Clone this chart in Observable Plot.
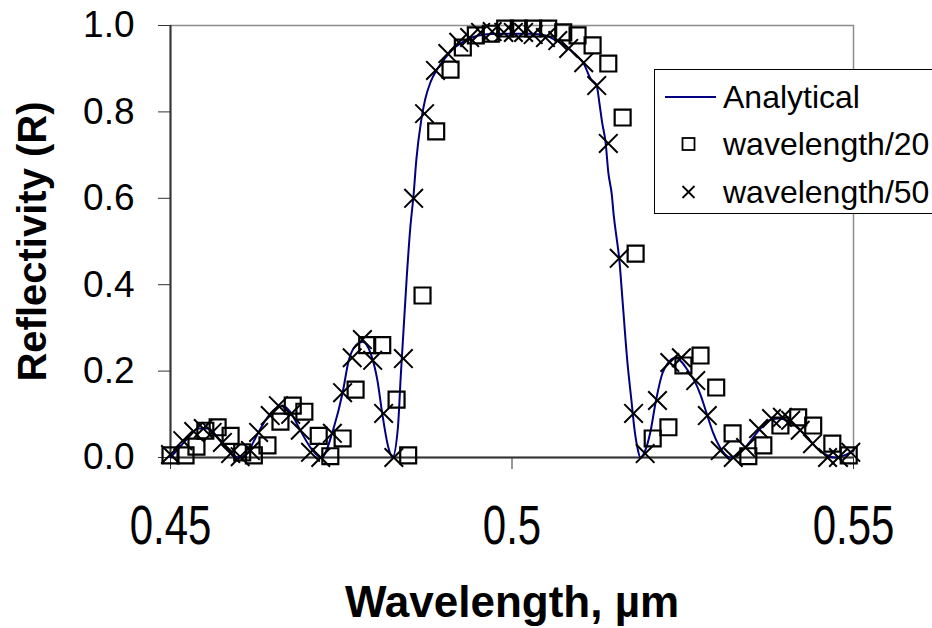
<!DOCTYPE html>
<html>
<head>
<meta charset="utf-8">
<script src="https://cdn.jsdelivr.net/npm/d3@7"></script>
<script src="https://cdn.jsdelivr.net/npm/@observablehq/plot@0.6"></script>
<style>
  body { margin: 0; background: #fff; }
  #wrap { position: relative; width: 932px; height: 628px; overflow: hidden; font-family: "Liberation Sans", Arial, sans-serif; }
  #legend { position: absolute; left: 654px; top: 69px; width: 290px; height: 145px; box-sizing: border-box; border: 1px solid #000; background: #fff; }
</style>
</head>
<body>
<div id="wrap"></div>
<script>
// ---- Data ----
const analyticalWl = [0.4500,0.4512,0.4526,0.4541,0.4556,0.4570,0.4585,0.4600,0.4613,0.4624,0.4639,0.4654,0.4665,0.4676,0.4690,0.4705,0.4721,0.4739,0.4752,0.4761,0.4771,0.4781,0.4793,0.4803,0.4810,0.4819,0.4825,0.4833,0.4837,0.4841,0.4846,0.4851,0.4856,0.4860,0.4867,0.4873,0.4881,0.4891,0.4903,0.4917,0.4932,0.4951,0.4976,0.5001,0.5027,0.5049,0.5065,0.5080,0.5094,0.5105,0.5115,0.5124,0.5128,0.5132,0.5137,0.5141,0.5146,0.5149,0.5153,0.5157,0.5162,0.5169,0.5175,0.5179,0.5184,0.5188,0.5193,0.5203,0.5210,0.5220,0.5228,0.5239,0.5249,0.5258,0.5268,0.5276,0.5286,0.5295,0.5308,0.5320,0.5334,0.5344,0.5359,0.5376,0.5390,0.5403,0.5418,0.5433,0.5447,0.5462,0.5472,0.5481,0.5491,0.5500];
const analyticalR  = [0.000,0.021,0.046,0.067,0.067,0.044,0.016,0.000,0.012,0.044,0.086,0.113,0.120,0.104,0.063,0.023,0.000,0.069,0.150,0.225,0.259,0.268,0.241,0.178,0.102,0.023,0.000,0.070,0.185,0.290,0.420,0.530,0.610,0.690,0.780,0.830,0.870,0.900,0.926,0.950,0.965,0.977,0.981,0.981,0.981,0.977,0.965,0.951,0.931,0.912,0.877,0.861,0.820,0.775,0.730,0.660,0.610,0.560,0.510,0.460,0.360,0.220,0.130,0.070,0.020,0.000,0.009,0.062,0.125,0.194,0.218,0.231,0.220,0.200,0.175,0.145,0.097,0.055,0.015,0.000,0.012,0.028,0.058,0.086,0.090,0.086,0.069,0.046,0.021,0.005,0.000,0.002,0.008,0.016];

const wl20Wl = [0.4500,0.4522,0.4538,0.4551,0.4569,0.4588,0.4605,0.4622,0.4642,0.4661,0.4679,0.4696,0.4717,0.4734,0.4752,0.4771,0.4788,0.4810,0.4831,0.4848,0.4869,0.4889,0.4910,0.4928,0.4947,0.4969,0.4990,0.5010,0.5031,0.5053,0.5075,0.5096,0.5118,0.5141,0.5162,0.5181,0.5206,0.5229,0.5251,0.5276,0.5299,0.5323,0.5346,0.5368,0.5393,0.5419,0.5441,0.5469,0.5493];
const wl20R  = [0.005,0.005,0.025,0.062,0.070,0.050,0.012,0.005,0.028,0.083,0.120,0.106,0.050,0.003,0.044,0.157,0.260,0.260,0.134,0.005,0.375,0.755,0.898,0.949,0.977,0.981,0.993,0.993,0.993,0.993,0.984,0.977,0.954,0.912,0.787,0.472,0.044,0.070,0.213,0.236,0.162,0.056,0.003,0.028,0.074,0.093,0.074,0.032,0.005];

const wl50Wl = [0.4500,0.4518,0.4534,0.4548,0.4561,0.4576,0.4588,0.4602,0.4617,0.4629,0.4646,0.4658,0.4676,0.4690,0.4705,0.4720,0.4737,0.4752,0.4766,0.4781,0.4796,0.4812,0.4827,0.4841,0.4856,0.4872,0.4888,0.4906,0.4922,0.4938,0.4954,0.4971,0.4988,0.5002,0.5017,0.5031,0.5049,0.5067,0.5083,0.5105,0.5124,0.5141,0.5157,0.5178,0.5195,0.5213,0.5231,0.5248,0.5269,0.5286,0.5305,0.5324,0.5342,0.5361,0.5380,0.5396,0.5408,0.5422,0.5440,0.5462,0.5478,0.5496];
const wl50R  = [0.007,0.039,0.060,0.067,0.058,0.035,0.009,0.002,0.016,0.058,0.097,0.120,0.100,0.063,0.012,0.000,0.056,0.150,0.231,0.273,0.225,0.102,0.000,0.229,0.600,0.796,0.896,0.935,0.961,0.972,0.984,0.986,0.984,0.984,0.984,0.979,0.972,0.965,0.947,0.914,0.861,0.727,0.461,0.102,0.009,0.132,0.220,0.231,0.178,0.097,0.016,0.000,0.023,0.067,0.090,0.093,0.086,0.063,0.032,0.000,0.000,0.012];

const xTicks = [0.45, 0.5, 0.55];
const yTicks = [0, 0.2, 0.4, 0.6, 0.8, 1.0];
const xLabel = "Wavelength, \u00b5m";
const yLabel = "Reflectivity (R)";
const seriesNames = ["Analytical", "wavelength/20", "wavelength/50"];

// ---- Tables built from the arrays ----
const analytical = analyticalWl.map((x, i) => ({x, y: analyticalR[i]}));
const wl20 = wl20Wl.map((x, i) => ({x, y: wl20R[i]}));
const wl50 = wl50Wl.map((x, i) => ({x, y: wl50R[i]}));

const chart = Plot.plot({
  width: 932,
  height: 628,
  marginLeft: 170,
  marginRight: 79,
  marginTop: 25,
  marginBottom: 171,
  style: {fontFamily: "'Liberation Sans', Arial, sans-serif", background: "white", color: "black", overflow: "visible"},
  x: {domain: [0.45, 0.55]},
  y: {domain: [0, 1]},
  marks: [
    Plot.frame({stroke: "#8c8c8c", strokeWidth: 1.5}),
    Plot.ruleY([0], {stroke: "#333", strokeWidth: 2}),
    Plot.ruleX([0.45], {stroke: "#333", strokeWidth: 2}),
    Plot.axisX({ticks: xTicks, tickFormat: d => String(d), tickSize: 12, tickPadding: 36, fontSize: 42,
      stroke: "#333", label: null}),
    Plot.axisY({ticks: yTicks, tickFormat: d3.format(".1f"), tickSize: 12, tickPadding: 24, fontSize: 37, stroke: "#333", label: null}),
    Plot.line(analytical, {x: "x", y: "y", stroke: "#000080", strokeWidth: 2, curve: "monotone-x"}),
    Plot.dot(wl20, {x: "x", y: "y", symbol: "square", r: 9, stroke: "black", strokeWidth: 2.2, fill: "none"}),
    Plot.dot(wl50, {x: "x", y: "y", symbol: "times", r: 8.5, stroke: "black", strokeWidth: 2}),
    Plot.text([xLabel], {text: d => d, frameAnchor: "bottom", textAnchor: "middle", lineAnchor: "middle", dy: 145, fontSize: 44, fontWeight: "bold", ariaLabel: "xtitle"}),
    Plot.text([yLabel], {text: d => d, frameAnchor: "left", textAnchor: "middle", lineAnchor: "middle", dx: -137, rotate: -90, fontSize: 40, fontWeight: "bold"})
  ]
});

// Stretch the x tick labels and x title vertically, like the reference's tall lettering
chart.querySelectorAll('g[aria-label="x-axis tick label"] text').forEach(t => {
  t.setAttribute("transform", (t.getAttribute("transform") || "") + " scale(1,1.3)");
});
chart.querySelectorAll('g[aria-label="xtitle"] text').forEach(t => {
  t.setAttribute("transform", (t.getAttribute("transform") || "") + " scale(1,1.12)");
});

const wrap = document.getElementById("wrap");
wrap.appendChild(chart);

// ---- Legend (overlaid box, as in the reference) ----
const legend = document.createElement("div");
legend.id = "legend";
const ns = "http://www.w3.org/2000/svg";
const lsvg = document.createElementNS(ns, "svg");
lsvg.setAttribute("width", 290);
lsvg.setAttribute("height", 143);
lsvg.style.fontFamily = "'Liberation Sans', Arial, sans-serif";
const rows = [27, 74, 122];
function el(tag, attrs) {
  const e = document.createElementNS(ns, tag);
  for (const k in attrs) e.setAttribute(k, attrs[k]);
  lsvg.appendChild(e);
  return e;
}
el("line", {x1: 10, x2: 61, y1: rows[0], y2: rows[0], stroke: "#000080", "stroke-width": 2});
el("rect", {x: 27.5, y: rows[1] - 6, width: 12, height: 12, fill: "none", stroke: "black", "stroke-width": 1.8});
el("path", {d: `M27.5,${rows[2]-6}L39.5,${rows[2]+6}M27.5,${rows[2]+6}L39.5,${rows[2]-6}`, stroke: "black", "stroke-width": 1.8});
seriesNames.forEach((name, i) => {
  const t = el("text", {x: 68, y: rows[i], "dominant-baseline": "central", "font-size": 32, fill: "#000"});
  t.textContent = name;
});
legend.appendChild(lsvg);
wrap.appendChild(legend);
</script>
</body>
</html>
